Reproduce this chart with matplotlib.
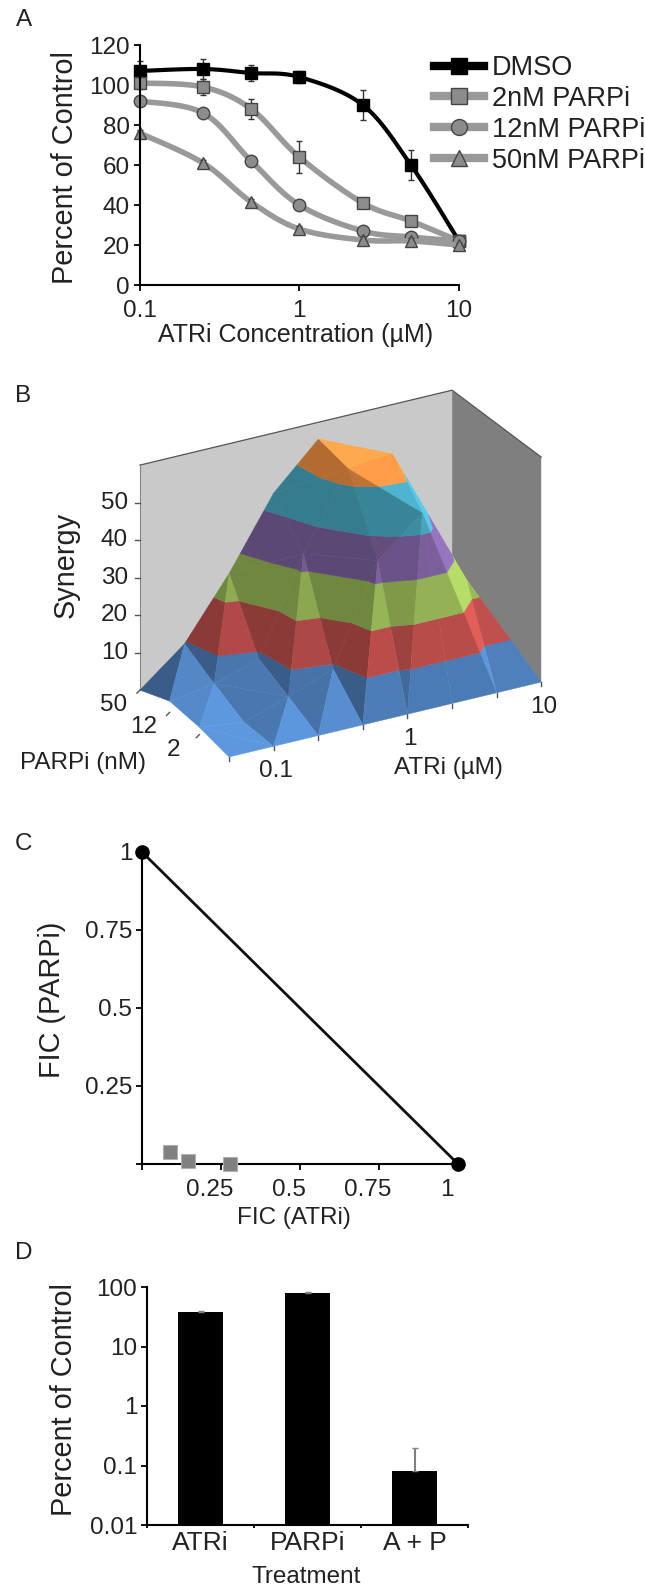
import numpy as np
import matplotlib
matplotlib.use("Agg")
import matplotlib.pyplot as plt
from matplotlib.lines import Line2D
from matplotlib.patches import Polygon
from matplotlib.transforms import ScaledTranslation
from matplotlib.colors import to_rgb

plt.rcParams['font.family'] = ['Liberation Sans', 'DejaVu Sans']
W, H = 645, 1589
FS = 17.5
FS_V = 20.8  # rotated axis titles run longer in the original
TXT = '#222222'

# Panel A
atri_conc = [0.1, 0.25, 0.5, 1, 2.5, 5, 10]
dmso = [107, 108, 106, 104, 90, 60, 22]
dmso_err = [5, 5, 4, 3, 7.5, 7.5, 1]
parp2 = [101, 99, 88, 64, 41, 32, 22]
parp2_err = [3, 4, 5, 8, 2, 2, 1]
parp12 = [92, 86, 62, 40, 27, 24, 22]
parp12_err = [2, 2, 2, 2, 2, 2, 1]
parp50 = [76, 61, 41.5, 28, 22.5, 22, 20]
parp50_err = [1.5, 1.5, 1.5, 1.5, 1.5, 1.5, 1]

# Panel B, rows are PARPi (0, 2, 12, 50 nM), columns ATRi steps
synergy = np.array([
    [0, 0, 0, 0, 0, 0, 0, 0],
    [2, 0.5, 4.4, 9, 35, 44.8, 24, 4],
    [3, 4.8, 8.6, 33.8, 53.6, 54.6, 28, 9],
    [0, 9.5, 25.4, 44, 55.5, 50, 35, 14],
])
atri_ticks = {1: '0.1', 4: '1', 7: '10'}
parp_ticks = {1: '2', 2: '12', 3: '50'}
synergy_ticks = [10, 20, 30, 40, 50]
band_edges = [0, 10, 20, 30, 40, 50, 60]
band_colors = ['#4F81BD', '#C0504D', '#9BBB59', '#8064A2', '#4BACC6', '#F79646']

# Panel C
fic_atri = [0.0875, 0.146, 0.277]
fic_parp = [0.04, 0.01, 0.0]
fic_line_x = [0, 1]
fic_line_y = [1, 0]

# Panel D
treatments = ['ATRi', 'PARPi', 'A + P']
survival = [38, 80, 0.082]
survival_err = [1, 2, 0.118]

fig = plt.figure(figsize=(W / 100, H / 100), dpi=100)


def make_axes(left, top, right, bottom):
    return fig.add_axes([left / W, 1 - bottom / H, (right - left) / W, (bottom - top) / H])


def style_axes(ax):
    for s in ['top', 'right']:
        ax.spines[s].set_visible(False)
    for s in ['left', 'bottom']:
        ax.spines[s].set_linewidth(1.5)
    ax.tick_params(which='major', length=4, width=1.3, labelsize=FS, labelcolor=TXT, pad=3)
    ax.tick_params(which='minor', length=0)


def smooth(x, y):
    # Catmull-Rom in log x, only to round the drawn line like the original
    lx = np.log10(x)
    y = np.asarray(y, float)
    px = np.r_[lx[0], lx, lx[-1]]
    py = np.r_[y[0], y, y[-1]]
    xs, ys = [], []
    for k in range(1, len(px) - 2):
        t = np.linspace(0, 1, 20)[:, None]
        for arr, out in ((px, xs), (py, ys)):
            a, b, c, d = arr[k - 1:k + 3]
            v = 0.5 * (2 * b + (c - a) * t + (2 * a - 5 * b + 4 * c - d) * t ** 2 + (3 * b - a - 3 * c + d) * t ** 3)
            out.append(v.ravel())
    return 10 ** np.concatenate(xs), np.concatenate(ys)


# overlay in pixel coordinates, for panel B and the free text
over = fig.add_axes([0, 0, 1, 1])
over.set_xlim(0, W)
over.set_ylim(H, 0)
over.axis('off')
for letter, lx, ly in [('A', 24, 20), ('B', 23, 396), ('C', 23, 844), ('D', 24, 1253)]:
    over.text(lx, ly, letter, fontsize=FS, color=TXT, ha='center', va='center')

# ---------- A
ax = make_axes(139.5, 45, 459, 285)
style_axes(ax)
ax.set_xscale('log')
ax.set_xlim(0.1, 10)
ax.set_ylim(0, 120)
ax.set_yticks(range(0, 121, 20))
ax.set_xticks([0.1, 1, 10])
ax.set_xticklabels(['0.1', '1', '10'])
ax.tick_params(axis='x', pad=7)
x = np.array(atri_conc)
series = [
    ('DMSO', dmso, dmso_err, 's', 'black', 'black', 'black', 3),
    ('2nM PARPi', parp2, parp2_err, 's', '#999999', '#8c8c8c', '#444444', 4),
    ('12nM PARPi', parp12, parp12_err, 'o', '#999999', '#8c8c8c', '#444444', 4),
    ('50nM PARPi', parp50, parp50_err, '^', '#999999', '#8c8c8c', '#444444', 4),
]
handles = []
for name, vals, errs, mk, lc, fc, ec, lw in series:
    sx, sy = smooth(x, vals)
    ax.plot(sx, sy, color=lc, lw=lw, solid_capstyle='round', clip_on=False)
    ax.errorbar(x, vals, yerr=errs, fmt='none', ecolor='#333333', elinewidth=1, capsize=2.5, clip_on=False)
    ax.plot(x, vals, ls='none', marker=mk, ms=9, mfc=fc, mec=ec, mew=1, clip_on=False)
    handles.append(Line2D([], [], color=lc, lw=6, marker=mk, ms=11.5, mfc=fc, mec=ec, mew=1, label=name))
fig.legend(handles=handles, loc='upper left', bbox_to_anchor=(434 / W, 1 - 55 / H), frameon=False,
           fontsize=19.5, labelcolor=TXT, handlelength=1.85, handletextpad=0.3, labelspacing=0.18,
           borderpad=0, borderaxespad=0)
over.text(296, 335, 'ATRi Concentration (µM)', fontsize=18, color=TXT, ha='center', va='center')
over.text(65, 168, 'Percent of Control', fontsize=FS_V, color=TXT, rotation=90, ha='center', va='center')

# ---------- B
origin = np.array([229.0, 757.0])
vec_i = np.array([44.6, -10.7])
vec_j = np.array([-29.7, -22.3])
vec_z = np.array([0.0, -3.75])
view = np.array([0.669, 1.0])


def project(i, j, z=0):
    return origin + i * vec_i + j * vec_j + z * vec_z


def clip_band(tri, lo, hi):
    poly = tri
    for sign, lim in ((1, lo), (-1, hi)):
        out = []
        for n in range(len(poly)):
            a, b = np.array(poly[n]), np.array(poly[(n + 1) % len(poly)])
            da, db = sign * (a[2] - lim), sign * (b[2] - lim)
            if da >= 0:
                out.append(a)
            if da * db < 0:
                out.append(a + (b - a) * da / (da - db))
        poly = out
        if not poly:
            break
    return poly


def shade(color, tri):
    p = np.array(tri, float)
    p[:, 2] /= 8
    n = np.cross(p[1] - p[0], p[2] - p[0])
    n = n / np.linalg.norm(n)
    if n[2] < 0:
        n = -n
    f = np.clip(0.9 + 0.55 * n[0] + 0.3 * n[2], 0.72, 1.18)
    return tuple(np.clip(np.array(to_rgb(color)) * f, 0, 1))


nj, ni = synergy.shape
corners = [project(0, 3), project(7, 3), project(7, 3, 60), project(0, 3, 60)]
over.add_patch(Polygon(corners, fc='#C9C9C9', ec='none', zorder=1))
corners = [project(7, 3), project(7, 0), project(7, 0, 60), project(7, 3, 60)]
over.add_patch(Polygon(corners, fc='#7F7F7F', ec='none', zorder=1))
top = np.array([project(0, 3, 60), project(7, 3, 60), project(7, 0, 60)])
over.plot(top[:, 0], top[:, 1], color='#555555', lw=0.9, zorder=2)
wall = np.array([project(0, 3, 0), project(0, 3, 60)])
over.plot(wall[:, 0], wall[:, 1], color='#888888', lw=0.8, zorder=2)

zo = 3
for j in range(nj - 2, -1, -1):
    for i in range(ni - 2, -1, -1):
        c00 = (i, j, synergy[j, i])
        c10 = (i + 1, j, synergy[j, i + 1])
        c01 = (i, j + 1, synergy[j + 1, i])
        c11 = (i + 1, j + 1, synergy[j + 1, i + 1])
        # the split follows the higher diagonal
        if c00[2] + c11[2] >= c10[2] + c01[2]:
            tris = [(c00, c10, c11), (c00, c11, c01)]
        else:
            tris = [(c00, c10, c01), (c10, c11, c01)]
        tris.sort(key=lambda t: -np.mean([view[0] * v[0] + view[1] * v[1] for v in t]))
        for tri in tris:
            for b, col in enumerate(band_colors):
                poly = clip_band(tri, band_edges[b], band_edges[b + 1])
                if len(poly) < 3:
                    continue
                pts = [project(*v) for v in poly]
                c = shade(col, tri)
                over.add_patch(Polygon(pts, fc=c, ec=c, lw=0.3, zorder=zo))
                zo += 0.001

for z in synergy_ticks:
    p = project(0, 3, z)
    over.plot([p[0] - 5, p[0]], [p[1], p[1]], color='#555555', lw=1, zorder=2)
    over.text(128, p[1], str(z), fontsize=FS, color=TXT, ha='right', va='center')
for i in range(ni):
    p = project(i, 0)
    over.plot([p[0], p[0]], [p[1], p[1] + 4], color='#555555', lw=1, zorder=2)
    if i in atri_ticks:
        over.text(p[0] + 2, p[1] + 25, atri_ticks[i], fontsize=FS, color=TXT, ha='center', va='center')
for j in range(1, nj):
    p = project(0, j)
    over.plot([p[0] - 3, p[0]], [p[1] + 3, p[1]], color='#555555', lw=1, zorder=2)
    over.text(p[0] - 26, p[1] + 15, parp_ticks[j], fontsize=FS, color=TXT, ha='center', va='center')
over.text(66, 565, 'Synergy', fontsize=FS_V, color=TXT, rotation=90, ha='center', va='center')
over.text(83, 763, 'PARPi (nM)', fontsize=FS, color=TXT, ha='center', va='center')
over.text(448, 768, 'ATRi (µM)', fontsize=FS, color=TXT, ha='center', va='center')

# ---------- C
ax = make_axes(142, 852, 458, 1164)
style_axes(ax)
ax.set_xlim(0, 1)
ax.set_ylim(0, 1)
ax.set_xticks([0, 0.25, 0.5, 0.75, 1])
ax.set_xticklabels(['', '0.25', '0.5', '0.75', '1'])
ax.set_yticks([0, 0.25, 0.5, 0.75, 1])
ax.set_yticklabels(['', '0.25', '0.5', '0.75', '1'])
ax.tick_params(axis='x', pad=7)
shift = ScaledTranslation(-11 / 100, 0, fig.dpi_scale_trans)
for lab in ax.get_xticklabels():
    lab.set_transform(lab.get_transform() + shift)
ax.plot(fic_line_x, fic_line_y, color='#111111', lw=2, clip_on=False)
ax.plot(fic_line_x, fic_line_y, ls='none', marker='o', ms=9.5, color='black', clip_on=False)
ax.plot(fic_atri, fic_parp, ls='none', marker='s', ms=9.5, mfc='#808080', mec='#b0b0b0', mew=0.8, clip_on=False, zorder=5)
over.text(294, 1218, 'FIC (ATRi)', fontsize=FS, color=TXT, ha='center', va='center')
over.text(52, 1000, 'FIC (PARPi)', fontsize=FS_V, color=TXT, rotation=90, ha='center', va='center')

# ---------- D
ax = make_axes(147, 1287, 468, 1525)
style_axes(ax)
ax.set_yscale('log')
ax.set_ylim(0.01, 100)
ax.set_xlim(-0.5, 2.5)
pos = np.arange(len(treatments))
ax.bar(pos, survival, width=0.412, color='black')
ax.errorbar(pos, survival, yerr=[np.zeros(3), survival_err], fmt='none', ecolor='#808080', elinewidth=1.5, capsize=2.5)
ax.set_yticks([0.01, 0.1, 1, 10, 100])
ax.set_yticklabels(['0.01', '0.1', '1', '10', '100'])
ax.set_xticks([-0.5, 0.5, 1.5, 2.5])
ax.set_xticklabels([])
ax.tick_params(axis='x', length=2)
for p, t in zip(pos, treatments):
    ax.annotate(t, (p, 0.01), xytext=(0, -13), textcoords='offset points', fontsize=19, color=TXT, ha='center', va='center')
over.text(306, 1577, 'Treatment', fontsize=FS, color=TXT, ha='center', va='center')
over.text(64, 1400, 'Percent of Control', fontsize=FS_V, color=TXT, rotation=90, ha='center', va='center')

fig.savefig('out.png', dpi=100)
